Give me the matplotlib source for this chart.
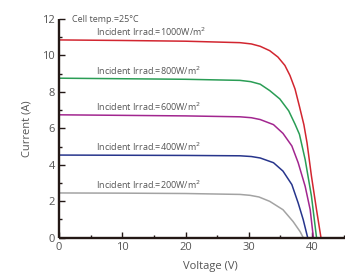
import matplotlib
matplotlib.use("Agg")
import matplotlib.pyplot as plt
from matplotlib.ticker import MultipleLocator

# I-V curves (voltage V, current A)
v_1000 = [0, 10, 20, 28.6, 30.4, 31.8, 33.3, 34.6, 35.7, 36.5, 37.3, 38.0, 38.7, 39.2, 39.9, 40.7, 41.4]
i_1000 = [10.85, 10.82, 10.78, 10.7, 10.63, 10.5, 10.26, 9.91, 9.45, 8.9, 8.16, 7.2, 6.2, 5.2, 3.37, 1.53, 0]
v_800 = [0, 10, 20, 28.6, 30.3, 31.8, 33.3, 34.9, 36.3, 37.3, 38.0, 38.9, 39.9, 40.7]
i_800 = [8.75, 8.72, 8.69, 8.63, 8.56, 8.42, 8.07, 7.61, 6.96, 6.23, 5.67, 4.29, 2.27, 0]
v_600 = [0, 10, 20, 28.6, 30.4, 31.8, 33.9, 35.4, 36.8, 37.8, 38.9, 39.7, 40.2]
i_600 = [6.74, 6.71, 6.68, 6.63, 6.58, 6.48, 6.2, 5.72, 5.03, 4.11, 2.82, 1.53, 0]
v_400 = [0, 10, 20, 28.6, 30.4, 31.8, 33.9, 35.4, 36.8, 37.8, 38.6, 39.3]
i_400 = [4.53, 4.52, 4.51, 4.49, 4.45, 4.37, 4.11, 3.65, 2.91, 1.9, 0.98, 0]
v_200 = [0, 10, 20, 28.6, 30.2, 31.6, 33.3, 35.4, 37.0, 38.1, 38.6]
i_200 = [2.45, 2.44, 2.42, 2.37, 2.32, 2.23, 1.99, 1.53, 0.88, 0.33, 0]

labels = ["Incident Irrad.=1000W/m$^2$", "Incident Irrad.=800W/m$^2$",
          "Incident Irrad.=600W/m$^2$", "Incident Irrad.=400W/m$^2$",
          "Incident Irrad.=200W/m$^2$"]
colors = ["#d22630", "#2a9d55", "#a2268f", "#27358c", "#a3a3a3"]

plt.rcParams['font.family'] = ['Open Sans', 'DejaVu Sans']
text_col = "#555555"

fig = plt.figure(figsize=(3.45, 2.75), dpi=100)
ax = fig.add_axes([0.171, 0.136, 0.829, 0.795])

curves = [(v_1000, i_1000), (v_800, i_800), (v_600, i_600), (v_400, i_400), (v_200, i_200)]
for (v, i), lab, c in zip(curves, labels, colors):
    ax.plot(v, i, color=c, lw=1.1, solid_joinstyle='round', solid_capstyle='butt')
    ax.text(5.8, i[0] + 0.2, lab, fontsize=6.5, color=text_col, va='baseline', ha='left')

ax.text(2.0, 11.95, "Cell temp.=25°C", fontsize=6.5, color=text_col, va='center', ha='left')

ax.set_xlim(0, 45.2)
ax.set_ylim(0, 12)
ax.xaxis.set_major_locator(MultipleLocator(10))
ax.xaxis.set_minor_locator(MultipleLocator(5))
ax.yaxis.set_major_locator(MultipleLocator(2))
ax.yaxis.set_minor_locator(MultipleLocator(1))

for s in ['top', 'right']:
    ax.spines[s].set_visible(False)
for s in ['left', 'bottom']:
    ax.spines[s].set_linewidth(1.7)
    ax.spines[s].set_color("#231815")
    ax.spines[s].set_capstyle('butt')

ax.tick_params(which='both', direction='in', color="#231815", labelsize=8, labelcolor=text_col)
ax.tick_params(which='major', length=4.5, width=1.0, pad=3)
ax.tick_params(which='minor', length=2.5, width=1.0)

ax.set_xlabel("Voltage (V)", fontsize=8, color=text_col)
ax.set_ylabel("Current (A)", fontsize=8, color=text_col)
ax.xaxis.set_label_coords(0.528, -0.105)
ax.yaxis.set_label_coords(-0.091, 0.5)

fig.savefig("out.png", dpi=100)
